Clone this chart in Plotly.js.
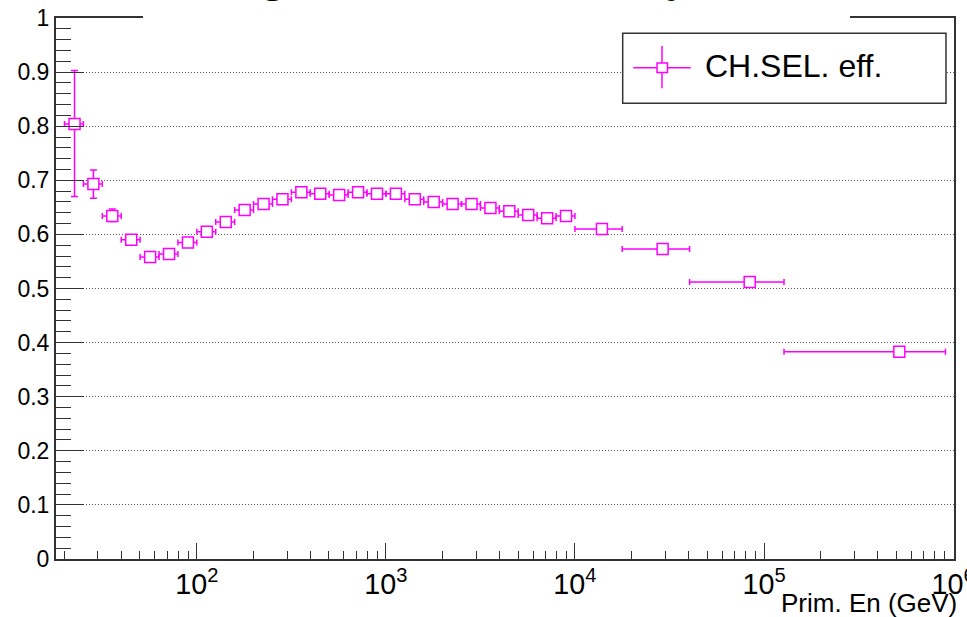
<!DOCTYPE html>
<html>
<head>
<meta charset="utf-8">
<script src="https://cdn.plot.ly/plotly-3.0.1.min.js"></script>
<style>html,body{margin:0;padding:0;background:#fff;}#chart{width:967px;height:617px;}</style>
</head>
<body>
<div id="chart"></div>
<script>
// Bin centres (GeV) of the primary-energy bins
var energy = [22.54, 28.37, 35.72, 44.97, 56.61, 71.27, 89.72, 112.95, 142.2, 179.0,
              225.4, 283.7, 357.2, 449.7, 566.1, 712.7, 897.2, 1129.5, 1422, 1790,
              2254, 2837, 3572, 4497, 5661, 7127, 8972, 13890, 29090, 84000, 519800];
// Bin edges (low / high)
var binLow  = [19.95, 25.12, 31.62, 39.81, 50.12, 63.10, 79.43, 100.0, 125.9, 158.5,
               199.5, 251.2, 316.2, 398.1, 501.2, 631.0, 794.3, 1000, 1259, 1585,
               1995, 2512, 3162, 3981, 5012, 6310, 7943, 10000, 17780, 40400, 127600];
var binHigh = [25.12, 31.62, 39.81, 50.12, 63.10, 79.43, 100.0, 125.9, 158.5, 199.5,
               251.2, 316.2, 398.1, 501.2, 631.0, 794.3, 1000, 1259, 1585, 1995,
               2512, 3162, 3981, 5012, 6310, 7943, 10000, 17780, 40400, 127600, 912000];
// Charge-selection efficiency
var efficiency = [0.804, 0.693, 0.634, 0.590, 0.558, 0.564, 0.585, 0.605, 0.623, 0.645,
                  0.656, 0.665, 0.678, 0.675, 0.673, 0.678, 0.675, 0.675, 0.665, 0.660,
                  0.656, 0.656, 0.649, 0.643, 0.636, 0.630, 0.634, 0.610, 0.573, 0.512, 0.383];
var errUp   = [0.099, 0.026, 0.013, 0.006, 0.005, 0.005, 0.005, 0.005, 0.005, 0.005,
               0.005, 0.005, 0.005, 0.005, 0.005, 0.005, 0.005, 0.005, 0.005, 0.005,
               0.005, 0.005, 0.005, 0.005, 0.005, 0.005, 0.005, 0.005, 0.005, 0.006, 0.006];
var errDown = [0.134, 0.026, 0.010, 0.006, 0.005, 0.005, 0.005, 0.005, 0.005, 0.005,
               0.005, 0.005, 0.005, 0.005, 0.005, 0.005, 0.005, 0.005, 0.005, 0.005,
               0.005, 0.005, 0.005, 0.005, 0.005, 0.005, 0.005, 0.005, 0.005, 0.006, 0.006];
var seriesName = 'CH.SEL. eff.';
var chartTitle = 'Charge Selection Efficiency';
var xTitle = 'Prim. En (GeV)';

var MAG = '#ff00ff';
var FONT = 'Liberation Sans, Arial, Helvetica, sans-serif';

var trace = {
  x: energy,
  y: efficiency,
  type: 'scatter',
  mode: 'markers',
  name: seriesName,
  marker: {symbol: 'square', size: 11, color: '#ffffff', line: {color: MAG, width: 1.5}},
  error_x: {type: 'data', symmetric: false,
            array: energy.map(function(v, i){ return binHigh[i] - v; }),
            arrayminus: energy.map(function(v, i){ return v - binLow[i]; }),
            color: MAG, thickness: 1.5, width: 3},
  error_y: {type: 'data', symmetric: false, array: errUp, arrayminus: errDown,
            color: MAG, thickness: 1.5, width: 3.5},
  showlegend: false,
  hoverinfo: 'x+y'
};

// plot area in pixels: x 56..954, y 18..559
function px2fx(p){ return (p - 56) / 898; }
function py2fy(p){ return (559 - p) / 541; }

var layout = {
  width: 967, height: 617,
  margin: {l: 56, r: 13, t: 18, b: 58, pad: 0},
  paper_bgcolor: '#ffffff', plot_bgcolor: '#ffffff',
  font: {family: FONT, color: '#000'},
  showlegend: false,
  xaxis: {
    type: 'log', range: [1.255, 6.005], dtick: 1, exponentformat: 'power',
    ticks: 'inside', ticklen: 16, tickwidth: 1, tickcolor: '#333',
    ticklabeloverflow: 'allow',
    showgrid: false, zeroline: false,
    showline: true, mirror: true, linecolor: '#333', linewidth: 2,
    tickfont: {family: FONT, size: 23, color: '#000'},
    minor: {ticks: 'inside', ticklen: 8, tickwidth: 1, tickcolor: '#333', dtick: 'D1', showgrid: false}
  },
  yaxis: {
    range: [0, 1], dtick: 0.1, tick0: 0,
    ticks: 'inside', ticklen: 28, tickwidth: 1, tickcolor: '#333',
    showgrid: true, gridcolor: '#555', gridwidth: 1, griddash: '1px,2px',
    zeroline: false,
    showline: true, mirror: true, linecolor: '#333', linewidth: 2,
    tickfont: {family: FONT, size: 23, color: '#000'},
    minor: {ticks: 'inside', ticklen: 15, tickwidth: 1, tickcolor: '#333', dtick: 0.02, showgrid: false}
  },
  shapes: [
    // title box (white) covering the top frame
    {type: 'rect', xref: 'paper', yref: 'paper', x0: px2fx(143), x1: px2fx(850), y0: py2fy(21), y1: py2fy(-10),
     fillcolor: '#ffffff', line: {width: 0}, layer: 'above'},
    // legend box
    {type: 'rect', xref: 'paper', yref: 'paper', x0: px2fx(622.7), x1: px2fx(946), y0: py2fy(103.3), y1: py2fy(33.3),
     fillcolor: '#ffffff', line: {color: '#333', width: 1.5}, layer: 'above'},
    {type: 'line', xref: 'paper', yref: 'paper', x0: px2fx(633.3), x1: px2fx(690.7), y0: py2fy(67.7), y1: py2fy(67.7),
     line: {color: MAG, width: 1.5}, layer: 'above'},
    {type: 'line', xref: 'paper', yref: 'paper', x0: px2fx(662), x1: px2fx(662), y0: py2fy(88.3), y1: py2fy(46),
     line: {color: MAG, width: 1.5}, layer: 'above'},
    {type: 'rect', xref: 'paper', yref: 'paper', x0: px2fx(657), x1: px2fx(667.5), y0: py2fy(72.5), y1: py2fy(63),
     fillcolor: '#ffffff', line: {color: MAG, width: 1.5}, layer: 'above'}
  ],
  annotations: [
    {text: chartTitle, xref: 'paper', yref: 'paper', x: px2fx(171), y: 1, xanchor: 'left', yanchor: 'bottom',
     yshift: 14.5, showarrow: false, font: {family: 'Liberation Serif, Times New Roman, serif', size: 46, color: '#000'}},
    {text: seriesName, xref: 'paper', yref: 'paper', x: px2fx(703), y: py2fy(66), xanchor: 'left', yanchor: 'middle',
     showarrow: false, font: {family: FONT, size: 32, color: '#000'}},
    {text: xTitle, xref: 'paper', yref: 'paper', x: 1, y: 0, xanchor: 'right', yanchor: 'middle',
     xshift: 5, yshift: -44, showarrow: false, font: {family: FONT, size: 26, color: '#000'}}
  ]
};

Plotly.newPlot('chart', [trace], layout, {displayModeBar: false, staticPlot: true});
</script>
</body>
</html>
